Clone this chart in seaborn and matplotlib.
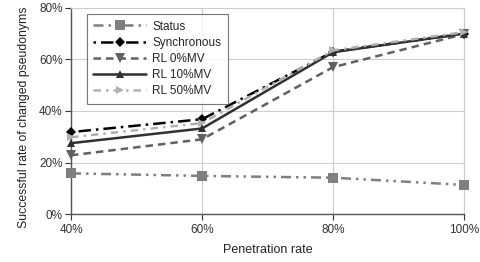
import numpy as np
import pandas as pd
import seaborn as sns
import matplotlib.pyplot as plt
from matplotlib.ticker import PercentFormatter

penetration = [40, 60, 80, 100]
status = [15.8, 14.8, 14.1, 11.3]
synchronous = [31.8, 36.8, 63.0, 70.0]
rl_0mv = [22.8, 29.0, 57.0, 69.8]
rl_10mv = [27.5, 33.2, 62.8, 70.0]
rl_50mv = [29.8, 35.3, 63.5, 70.6]

series = {
    'Status': status,
    'Synchronous': synchronous,
    'RL 0%MV': rl_0mv,
    'RL 10%MV': rl_10mv,
    'RL 50%MV': rl_50mv,
}

rows = []
for name, vals in series.items():
    for x, v in zip(penetration, vals):
        rows.append([name, x, v])
data = pd.DataFrame(rows, columns=['method', 'penetration', 'rate'])

styles = {
    'Status': dict(color='#7f7f7f', ls=(0, (4, 2, 1, 2, 1, 2)), marker='s', ms=7.5, lw=1.8),
    'Synchronous': dict(color='black', ls=(0, (1, 2, 5, 2)), marker='D', ms=5, lw=1.8),
    'RL 0%MV': dict(color='#606060', ls=(0, (3, 2)), marker='v', ms=7, lw=1.8),
    'RL 10%MV': dict(color='#303030', ls='-', marker='^', ms=6, lw=1.8),
    'RL 50%MV': dict(color='#b0b0b0', ls=(0, (3, 2, 1, 2)), marker='>', ms=6, lw=1.8),
}

sns.set_theme(style='whitegrid')
plt.rcParams['font.family'] = ['Liberation Sans', 'DejaVu Sans']
fig, ax = plt.subplots(figsize=(4.8, 2.62), dpi=100)

for name in series:
    st = styles[name]
    sub = data[data['method'] == name]
    sns.lineplot(data=sub, x='penetration', y='rate', ax=ax, label=name,
                 color=st['color'], linestyle=st['ls'], marker=st['marker'],
                 markersize=st['ms'], linewidth=st['lw'], markeredgewidth=0,
                 clip_on=False, zorder=3)

ax.set_xlim(40, 100)
ax.set_ylim(0, 80)
ax.set_xticks(penetration)
ax.set_yticks([0, 20, 40, 60, 80])
ax.xaxis.set_major_formatter(PercentFormatter(decimals=0))
ax.yaxis.set_major_formatter(PercentFormatter(decimals=0))
ax.tick_params(labelsize=8.5, colors='#333333', length=4, width=0.8, pad=2)
ax.tick_params(axis='x', pad=3)
ax.tick_params(axis='both', which='major', bottom=True, left=True)
ax.set_xlabel('Penetration rate', fontsize=9, color='#222222', labelpad=6)
ax.set_ylabel('Successful rate of changed pseudonyms', fontsize=8.8, color='#222222')
ax.yaxis.set_label_coords(-0.105, 0.47)
ax.grid(color='#cccccc', linewidth=0.8)
for side in ['top', 'right']:
    ax.spines[side].set_color('#cccccc')
    ax.spines[side].set_linewidth(0.8)
for side in ['left', 'bottom']:
    ax.spines[side].set_color('#555555')
    ax.spines[side].set_linewidth(1.0)

leg = ax.legend(loc='upper left', bbox_to_anchor=(0.04, 0.97), fontsize=8.5,
                frameon=True, fancybox=False, handlelength=4.5,
                labelspacing=0.35, borderpad=0.55, borderaxespad=0,
                handletextpad=0.5)
leg.get_frame().set_edgecolor('#555555')
leg.get_frame().set_linewidth(0.8)

plt.subplots_adjust(left=0.148, right=0.967, top=0.97, bottom=0.183)
plt.savefig('out.png', dpi=100)
